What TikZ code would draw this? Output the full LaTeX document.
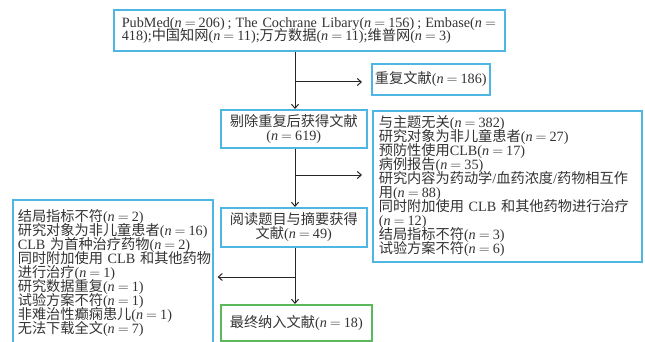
\documentclass[tikz,border=0pt]{standalone}
\usepackage{fontspec}
\setmainfont{Liberation Serif}
\newfontfamily\cjk{Noto Sans CJK SC}
\usetikzlibrary{arrows.meta}
\definecolor{boxblue}{HTML}{4DB6E2}
\definecolor{boxgreen}{HTML}{5CB85C}
\definecolor{txt}{HTML}{333333}
\newcommand\zhs[1]{{\cjk #1}}
\newcommand\nval[1]{(\textit{n}\kern3pt$=$\kern3pt#1)}
\newcommand\tightls{\lineskiplimit -20pt\relax}
\begin{document}
\begin{tikzpicture}[x=1pt,y=-1pt,
  font={\fontsize{14.2}{14}\selectfont\tightls},
  box/.style={draw=boxblue, line width=1.6pt, text=txt, inner ysep=0pt, anchor=north west},
  gbox/.style={box, draw=boxgreen},
  arr/.style={draw=black!85, line width=1pt, -{Straight Barb[length=4pt,width=7pt]}}]
\useasboundingbox (0,0) rectangle (645,342);
\node[box, minimum height=41pt, inner xsep=8pt, text width=375pt, align=left,
      font={\fontsize{14.2}{13.4}\selectfont\tightls}] (src) at (113,9)
  {PubMed\nval{206}\kern3pt;\kern4pt The~Cochrane~Libary\nval{156}\kern3pt;\kern4pt Embase(\textit{n}\kern3pt$=$\\
   418);\zhs{中国知网}\nval{11};\zhs{万方数据}\nval{11};\zhs{维普网}\nval{3}};
\node[box, minimum width=118pt, minimum height=31pt, inner xsep=0pt] (dup) at (371,63)
  {\zhs{重复文献}\nval{186}};
\node[box, minimum width=146pt, minimum height=38pt, inner xsep=0pt, align=center] (del) at (220,109)
  {\zhs{剔除重复后获得文献}\\\nval{619}};
\node[box, minimum height=151pt, inner xsep=6pt, text width=257pt, align=left] (exc1) at (372,110)
  {\zhs{与主题无关}\nval{382}\\
   \zhs{研究对象为非儿童患者}\nval{27}\\
   \zhs{预防性使用}CLB\nval{17}\\
   \zhs{病例报告}\nval{35}\\
   \zhs{研究内容为药动学}/\zhs{血药浓度}/\zhs{药物相互作}\\
   \zhs{用}\nval{88}\\
   \zhs{同时附加使用}~CLB~\zhs{和其他药物进行治疗}\\
   \nval{12}\\
   \zhs{结局指标不符}\nval{3}\\
   \zhs{试验方案不符}\nval{6}};
\node[box, minimum width=146pt, minimum height=39pt, inner xsep=0pt, align=center] (read) at (220,207)
  {\zhs{阅读题目与摘要获得}\\\zhs{文献}\nval{49}};
\node[box, minimum height=146pt, inner xsep=5pt, text width=190pt, align=left] (exc2) at (12,199)
  {\zhs{结局指标不符}\nval{2}\\
   \zhs{研究对象为非儿童患者}\nval{16}\\
   CLB~\zhs{为首种治疗药物}\nval{2}\\
   \zhs{同时附加使用}~CLB~\zhs{和其他药物}\\
   \zhs{进行治疗}\nval{1}\\
   \zhs{研究数据重复}\nval{1}\\
   \zhs{试验方案不符}\nval{1}\\
   \zhs{非难治性癫痫患儿}\nval{1}\\
   \zhs{无法下载全文}\nval{7}};
\node[gbox, minimum width=151pt, minimum height=36pt, inner xsep=0pt] (fin) at (220,304)
  {\zhs{最终纳入文献}\nval{18}};
\coordinate (v) at (295,0);
\coordinate (b1) at (295,82);
\coordinate (b2) at (295,175);
\coordinate (b3) at (295,277);
\draw[arr] (src.south -| v) -- (del.north -| v);
\draw[arr] (b1) -- ([xshift=-9pt]dup.west |- b1);
\draw[arr] (del.south -| v) -- (read.north -| v);
\draw[arr] (b2) -- ([xshift=-10pt]exc1.west |- b2);
\draw[arr] (read.south -| v) -- (fin.north -| v);
\draw[arr] (b3) -- ([xshift=4pt]exc2.east |- b3);
\end{tikzpicture}
\end{document}
